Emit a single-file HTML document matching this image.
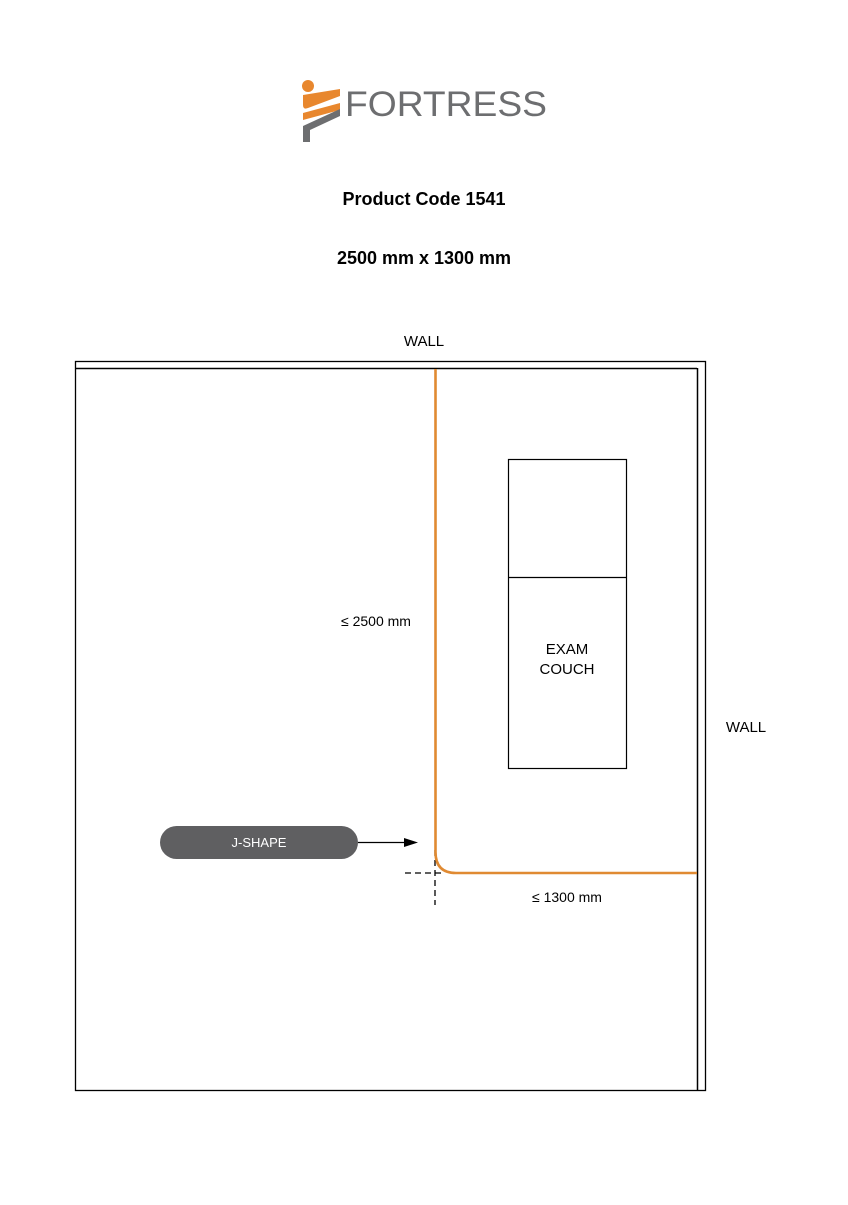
<!DOCTYPE html>
<html><head><style>
body{margin:0;background:#fff;width:848px;height:1200px;overflow:hidden;font-family:"Liberation Sans",sans-serif}
</style></head><body>
<svg width="848" height="1200" viewBox="0 0 848 1200" xmlns="http://www.w3.org/2000/svg">
<!-- logo -->
<circle cx="308" cy="86" r="6" fill="#e8872e"/>
<path d="M303 95 L303 105 Q303 110 308 108 L340 96 L340 89 Z" fill="#e8872e"/>
<path d="M303 113 L303 120 L340 110 L340 103 Z" fill="#e8872e"/>
<path d="M303 142 L310 142 L310 130 L340 116 L340 109 L303 126 Z" fill="#6d6e70"/>
<text x="345" y="116" font-size="35" fill="#6d6e70" font-family="Liberation Sans" textLength="202" lengthAdjust="spacingAndGlyphs">FORTRESS</text>
<text x="424" y="205" font-size="18" font-weight="bold" text-anchor="middle" fill="#000">Product Code 1541</text>
<text x="424" y="264" font-size="18" font-weight="bold" text-anchor="middle" fill="#000">2500 mm x 1300 mm</text>
<text x="424" y="346" font-size="15" text-anchor="middle" fill="#000">WALL</text>
<text x="746" y="732" font-size="15" text-anchor="middle" fill="#000">WALL</text>
<!-- room -->
<rect x="75.5" y="361.5" width="630" height="729" fill="none" stroke="#000" stroke-width="1.3"/>
<line x1="75" y1="368.5" x2="697" y2="368.5" stroke="#000" stroke-width="1.5"/>
<line x1="697.5" y1="368" x2="697.5" y2="1091" stroke="#000" stroke-width="1.5"/>
<!-- couch -->
<rect x="508.5" y="459.5" width="118" height="309" fill="none" stroke="#000" stroke-width="1.2"/>
<line x1="508" y1="577.5" x2="627" y2="577.5" stroke="#000" stroke-width="1.2"/>
<text x="567" y="654" font-size="15" text-anchor="middle">EXAM</text>
<text x="567" y="674" font-size="15" text-anchor="middle">COUCH</text>
<!-- dashes -->
<line x1="405" y1="873" x2="445" y2="873" stroke="#000" stroke-width="1.3" stroke-dasharray="6,4"/>
<line x1="435" y1="850" x2="435" y2="905" stroke="#000" stroke-width="1.3" stroke-dasharray="6,4"/>
<!-- orange J -->
<path d="M435.5 369 L435.5 852 Q435.5 873 456 873 L697 873" fill="none" stroke="#e08a32" stroke-width="2.6"/>
<text x="376" y="626" font-size="14" text-anchor="middle">≤ 2500 mm</text>
<text x="567" y="902" font-size="14" text-anchor="middle">≤ 1300 mm</text>
<!-- pill -->
<rect x="160" y="826" width="198" height="33" rx="16.5" fill="#5f5f61"/>
<text x="259" y="847" font-size="13" fill="#fff" text-anchor="middle">J-SHAPE</text>
<line x1="358" y1="842.5" x2="406" y2="842.5" stroke="#000" stroke-width="1.3"/>
<path d="M418 842.5 L404 838 L404 847 Z" fill="#000"/>
</svg>
</body></html>
